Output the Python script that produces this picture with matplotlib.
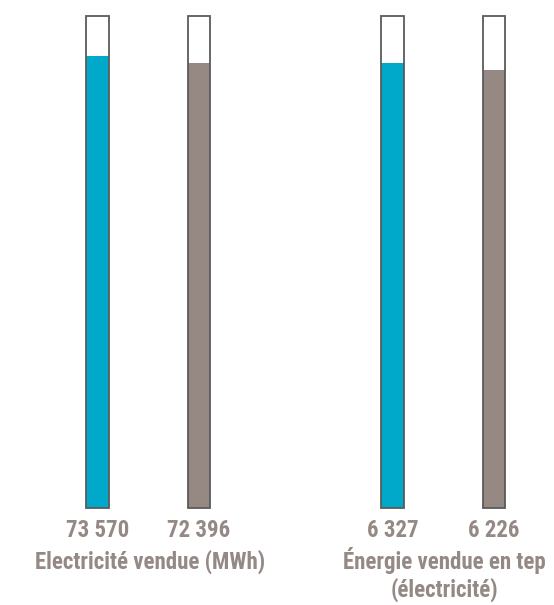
import matplotlib
matplotlib.use("Agg")
import matplotlib.pyplot as plt
from matplotlib import font_manager

# Data
values = [73570, 72396, 6327, 6226]
scale_max = [80000, 80000, 7000, 7000]
value_labels = ["73 570", "72 396", "6 327", "6 226"]
group_titles = ["Electricité vendue (MWh)", "Énergie vendue en tep\n(électricité)"]

# Layout (pixel columns of the bars)
x_pos = [97.7, 199.0, 392.5, 494.0]
group_x = [150.5, 444.0]
bar_w = 22.5

blue = "#00A8C9"
taupe = "#968882"
colors = [blue, taupe, blue, taupe]
text_color = "#948985"

names = {f.name for f in font_manager.fontManager.ttflist}
fam = ["Roboto Condensed", "Fira Sans Condensed", "Barlow Condensed",
       "Liberation Sans Narrow", "DejaVu Sans"]
fam = [f for f in fam if f in names][:1] + ["DejaVu Sans"]
fsize = 16.5

W, H = 554, 605
fig = plt.figure(figsize=(W / 100, H / 100), dpi=100)
bottom_px, top_px = 507.5, 16.0
ax = fig.add_axes([0, (H - bottom_px) / H, 1, (bottom_px - top_px) / H])
ax.set_xlim(0, W)
ax.set_ylim(0, 1)
ax.axis("off")

frac = [v / m for v, m in zip(values, scale_max)]
ax.bar(x_pos, frac, width=bar_w, color=colors, edgecolor="none", zorder=2)
ax.bar(x_pos, [1] * 4, width=bar_w, facecolor="none", edgecolor="#5a5a5a",
       linewidth=1.3, zorder=3, clip_on=False)

# value labels, baseline at ~537px
for x, lab in zip(x_pos, value_labels):
    fig.text(x / W, 1 - 537.3 / H, lab, ha="center", va="baseline",
             fontsize=fsize, fontweight="bold", color=text_color, family=fam)

# group titles, one text per line (28px line step)
for x, t in zip(group_x, group_titles):
    for k, line in enumerate(t.split("\n")):
        fig.text(x / W, 1 - (568.8 + 28 * k) / H, line, ha="center", va="baseline",
                 fontsize=fsize, fontweight="bold", color=text_color, family=fam)

fig.savefig("out.png", dpi=100, facecolor="white")
